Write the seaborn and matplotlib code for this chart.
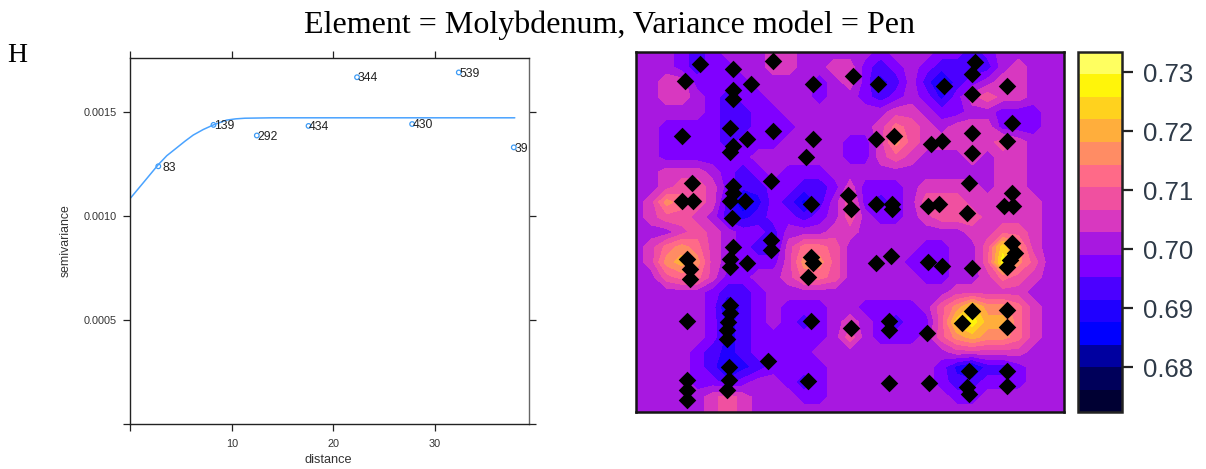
import numpy as np
import pandas as pd
import matplotlib
matplotlib.use("Agg")
import matplotlib.pyplot as plt
import seaborn as sns

# Variogram sample points
dist = [2.76, 8.2, 12.47, 17.57, 22.35, 27.78, 32.38, 37.8]
gamma = [0.001237, 0.001436, 0.001385, 0.001431, 0.001665, 0.00144, 0.001688, 0.001328]
np_labels = ['83', '139', '292', '434', '344', '430', '539', '39']

# Fitted model
fit_dist = [0, 1.4, 2.76, 3.6, 4.58, 5.4, 6.2, 7.2, 8.2, 9.5, 10.4, 11.3, 14, 20, 30, 37.9]
fit_gamma = [0.001083, 0.001165, 0.001245, 0.001288, 0.001326, 0.001358, 0.001387, 0.001414, 0.001436,
             0.001459, 0.001465, 0.001468, 0.00147, 0.00147, 0.00147, 0.00147]

# Sampling stations (image px inside the map frame)
station_x = [64, 96.7, 137, 49, 114.7, 176.7, 217, 242.3, 96.7, 96.7, 94, 46.3, 137.3, 111.3, 176.7,
             240, 258, 96.7, 94, 170, 56.3, 134.7, 96.7, 96.7, 94, 109, 46.3, 57.3, 174.7, 212.3,
             214.7, 240, 255.7, 255.7, 95.7, 51.3, 54, 54, 96.7, 94, 94, 111.3, 134.7, 134.7, 174.7,
             177.3, 172.3, 240, 254.7, 51.3, 94, 94, 92.3, 91.3, 91.3, 174.7, 214.7, 253.3, 253.3,
             132.3, 93.3, 93.3, 91.3, 51.3, 51.3, 51.3, 172.3, 253.3, 339, 335.7, 308, 335.7, 370.7,
             376.3, 335.7, 294.7, 305.7, 370.7, 335.7, 333, 376.3, 292.3, 303.3, 330.7, 368, 377.3,
             376.3, 379, 374, 370.7, 292.3, 305.7, 335.7, 335.7, 370.7, 370.7, 325.7, 290.7, 333.3,
             370.7, 370.7, 293, 330.7, 333]
station_y = [12, 17, 9, 29, 31.7, 31.7, 24.3, 31.7, 38, 47, 76.3, 84, 79, 87, 87,
             87, 84, 93.7, 99.7, 104.7, 131.3, 129, 133.7, 141.3, 149, 149, 149, 149, 151.7, 143,
             157, 151.7, 151.7, 157, 166.3, 207.3, 217.3, 227.3, 195.3, 207.3, 214.7, 211.3, 188, 198, 204.7,
             211.3, 224.7, 211.3, 204, 269, 253, 261.3, 269.7, 278, 287.3, 269, 276.3, 269, 278,
             309, 315.3, 328, 338, 328, 338, 348, 329, 331.3, 10.3, 22.3, 34.3, 42.3, 34.3,
             71.3, 81.3, 91.7, 89, 89, 101.3, 131.3, 141.3, 154.3, 151.7, 161.3, 154.3, 154.3,
             191.3, 201.3, 208, 214.7, 209.7, 214, 216.3, 259, 258, 274.7, 271.3, 281.3, 318.7,
             318.7, 334, 331.3, 334.7, 342]

surface = [
    [701,701,701,697,693,697,701,701,701,705,705,701,701,701,701,701,697,701,701,701,697,697,693,697,701,701,701,701,701],
    [701,701,701,697,693,697,697,701,701,705,705,701,701,705,705,697,693,697,701,697,693,693,693,693,701,705,701,701,701],
    [701,701,705,705,697,697,697,697,701,701,701,701,697,701,705,697,690,693,701,693,686,693,697,701,705,705,701,701,701],
    [701,701,705,705,701,697,693,697,697,701,701,701,697,701,701,697,693,697,701,697,690,697,705,709,705,705,701,701,701],
    [701,701,701,701,701,697,693,693,697,697,701,701,701,701,701,701,701,705,705,701,697,697,701,701,697,697,697,701,701],
    [701,701,697,697,697,697,693,693,697,697,697,701,701,701,701,701,705,712,709,705,701,705,705,705,697,697,697,701,701],
    [701,701,697,697,697,697,693,697,697,697,701,701,701,701,697,697,705,716,709,705,705,705,705,705,709,705,701,701,701],
    [701,701,697,697,697,697,697,697,701,701,701,701,701,701,697,697,705,709,705,701,701,701,705,701,705,705,701,701,701],
    [701,701,705,705,705,701,697,693,697,701,697,697,697,701,701,701,701,701,701,701,701,701,701,701,705,705,701,701,701],
    [701,701,705,709,709,705,697,693,693,697,697,693,693,697,705,697,697,697,701,705,705,705,705,701,705,705,701,701,701],
    [701,705,716,712,709,705,693,682,690,697,693,686,693,701,709,697,693,697,701,709,709,709,705,705,705,705,705,701,701],
    [701,705,709,709,705,701,693,690,693,697,697,693,697,701,709,701,697,697,701,705,709,709,709,705,705,705,705,701,701],
    [701,701,701,705,709,705,701,697,697,693,701,701,701,705,705,701,701,701,701,701,701,701,705,705,709,709,705,701,701],
    [701,705,712,716,712,705,701,697,693,693,705,712,712,709,701,701,701,701,701,697,697,701,701,709,724,716,705,701,701],
    [701,705,716,720,716,705,701,697,697,697,705,716,716,709,701,701,701,701,697,697,697,701,701,709,728,716,709,701,701],
    [701,701,709,712,712,705,697,697,701,701,705,712,712,709,701,701,701,701,701,697,697,701,701,705,712,709,705,701,701],
    [701,701,701,701,701,697,693,693,697,701,701,701,701,701,701,701,701,701,701,701,701,705,705,705,705,705,701,701,701],
    [701,701,701,701,701,697,686,693,697,701,697,697,697,701,701,697,697,697,697,701,709,716,724,716,716,712,705,701,701],
    [701,701,701,701,701,697,690,693,697,701,697,693,697,701,705,701,697,693,697,697,709,724,728,720,720,712,705,701,701],
    [701,701,701,701,701,697,690,693,697,697,697,697,697,701,709,701,697,697,697,701,709,716,720,716,716,712,705,701,701],
    [701,701,701,701,697,693,690,693,697,697,697,697,701,701,701,701,701,701,701,701,701,705,705,705,705,705,701,701,701],
    [701,701,701,701,697,693,686,690,693,697,697,697,697,701,701,701,701,701,701,701,697,690,686,693,693,697,701,701,701],
    [701,701,701,701,697,697,693,697,701,701,697,693,697,701,701,701,701,701,701,701,697,693,693,697,697,697,701,701,701],
    [701,701,701,701,701,705,709,705,701,701,701,697,697,701,701,701,701,701,701,701,701,697,697,701,701,701,701,701,701],
    [701,701,701,701,701,705,709,705,701,701,701,701,701,701,701,701,701,701,701,701,701,701,701,701,701,701,701,701,701],
]

band_colors = ['#000033', '#00005A', '#0000A0', '#0000FF', '#2000FF', '#4B00FF', '#8000FF', '#A818E0',
               '#D838C0', '#F050A0', '#FF6A88', '#FF8C64', '#FFAE3C', '#FFD21E', '#FFF50A', '#FFFF60']
color_ticks = [0.68, 0.69, 0.70, 0.71, 0.72, 0.73]

sns.set_theme(style='ticks')
plt.rcParams['font.family'] = ['Liberation Sans', 'DejaVu Sans']

W, H = 1206, 469
fig = plt.figure(figsize=(W/100, H/100), dpi=100)


def px_axes(x0, y0, x1, y1):
    return fig.add_axes([x0/W, 1 - y1/H, (x1 - x0)/W, (y1 - y0)/H])


# --- left panel: variogram ---
ax = px_axes(130.3, 58.5, 529, 423.7)
vario = pd.DataFrame({'distance': dist, 'semivariance': gamma})
fit = pd.DataFrame({'distance': fit_dist, 'semivariance': fit_gamma})
sns.lineplot(data=fit, x='distance', y='semivariance', ax=ax, color='#4AA3FF', linewidth=1.1)
sns.scatterplot(data=vario, x='distance', y='semivariance', ax=ax, s=11, marker='o',
                facecolor='none', edgecolor='#3D9BF5', linewidth=0.9)
for xv, yv, lab in zip(dist, gamma, np_labels):
    dx = 3.0 if lab == '83' else 0.5
    ax.annotate(lab, (xv, yv), xytext=(dx, -0.9), textcoords='offset points', fontsize=8.8,
                color='#222222', va='center', ha='left', annotation_clip=False)
ax.set_xlim(0, 39.3)
ax.set_ylim(0, 0.001755)
ax.set_xticks([0, 10, 20, 30])
ax.set_xticklabels(['', '10', '20', '30'])
ax.set_yticks([0, 0.0005, 0.001, 0.0015])
ax.set_yticklabels(['', '0.0005', '0.0010', '0.0015'])
ax.tick_params(axis='both', top=True, right=True, length=5, width=0.9, labelsize=7.8,
               color='#222222', labelcolor='#333333')
ax.tick_params(axis='x', pad=6)
ax.tick_params(axis='y', pad=5)
ax.set_xlabel('distance', fontsize=9.2, color='#333333')
ax.set_ylabel('semivariance', fontsize=8.8, color='#333333')
ax.xaxis.set_label_coords(0.4976, -0.083)
ax.yaxis.set_label_coords(-0.148, 0.5)
for s in ax.spines.values():
    s.set_linewidth(1.0)
    s.set_color('#222222')
ax.spines['right'].set_color('#666666')

# --- right panel: map ---
mp = px_axes(636, 52, 1064, 412)
grid_x = np.arange(29) * 428 / 28
grid_y = np.arange(25) * 360 / 24
levels = np.linspace(0.6724, 0.7334, 17)
cf = mp.contourf(grid_x, grid_y, np.array(surface) / 1000, levels=levels, colors=band_colors)
stations = pd.DataFrame({'x': station_x, 'y': station_y})
sns.scatterplot(data=stations, x='x', y='y', ax=mp, marker='D', s=80, color='black',
                edgecolor='black', linewidth=0, clip_on=True, zorder=3)
mp.set_xlim(0, 428)
mp.set_ylim(360, 0)
mp.set_xticks([])
mp.set_yticks([])
mp.set_xlabel('')
mp.set_ylabel('')
for s in mp.spines.values():
    s.set_linewidth(1.8)
    s.set_color('#151515')

cax = px_axes(1078, 52, 1122, 412)
cb = fig.colorbar(cf, cax=cax, ticks=color_ticks)
cb.ax.set_yticklabels(['%.2f' % t for t in color_ticks])
cb.ax.tick_params(length=8, width=1.6, labelsize=18.5, color='#222222', labelcolor='#2E3A48', pad=7)
cb.outline.set_linewidth(1.8)
cb.outline.set_edgecolor('#222222')

# --- titles ---
fig.text(610/W, 1 - 25/H, 'Element = Molybdenum, Variance model = Pen', ha='center', va='center',
         fontsize=23, family=['Liberation Serif'], color='black')
fig.text(7/W, 1 - 56/H, 'H', ha='left', va='center', fontsize=20, family=['Liberation Serif'], color='black')

fig.savefig('out.png', dpi=100)
